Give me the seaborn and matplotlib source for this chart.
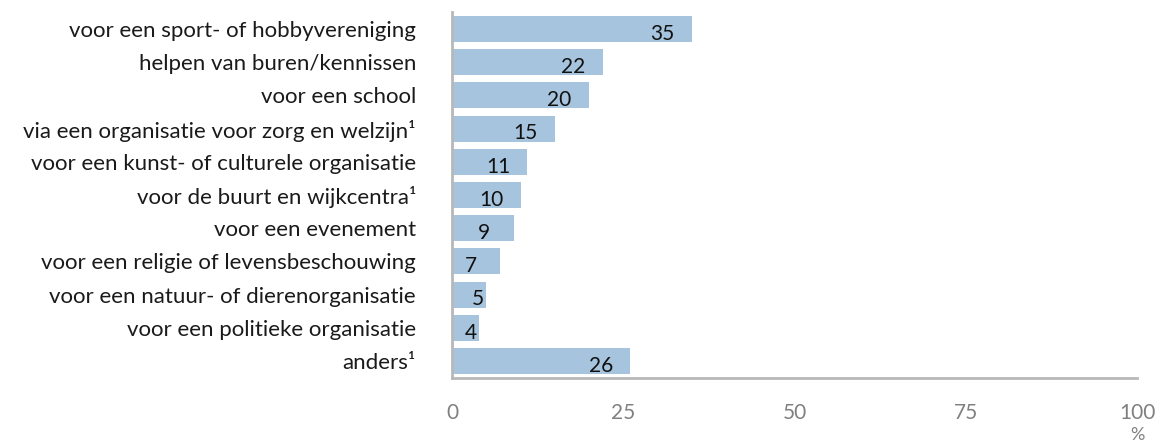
import matplotlib
matplotlib.use("Agg")
import matplotlib.pyplot as plt
import seaborn as sns
import pandas as pd

categories = [
    "voor een sport- of hobbyvereniging",
    "helpen van buren/kennissen",
    "voor een school",
    "via een organisatie voor zorg en welzijn¹",
    "voor een kunst- of culturele organisatie",
    "voor de buurt en wijkcentra¹",
    "voor een evenement",
    "voor een religie of levensbeschouwing",
    "voor een natuur- of dierenorganisatie",
    "voor een politieke organisatie",
    "anders¹",
]
values = [35, 22, 20, 15, 11, 10, 9, 7, 5, 4, 26]
x_ticks = [0, 25, 50, 75, 100]

sns.set_theme(style="white")
plt.rcParams["font.family"] = ["Lato", "DejaVu Sans"]

df = pd.DataFrame({"cat": categories, "val": values})

fig = plt.figure(figsize=(11.62, 4.44), dpi=100)
ax = fig.add_axes([0.389, 0.1495, 0.5895, 0.8225])

sns.barplot(data=df, x="val", y="cat", orient="h", color="#a6c4dd",
            saturation=1, width=0.78, ax=ax, edgecolor="none")

ax.set_xlim(0, 100)
ax.set_ylim(len(categories) - 0.5, -0.5)
ax.set_xticks(x_ticks)
ax.set_xticklabels([str(t) for t in x_ticks], color="#808080", fontsize=15)
ax.tick_params(axis="x", length=0, pad=18)
ax.tick_params(axis="y", length=0, pad=26, labelsize=16, labelcolor="#1a1a1a")
ax.set_xlabel("")
ax.set_ylabel("")

for s in ["top", "right"]:
    ax.spines[s].set_visible(False)
for s in ["left", "bottom"]:
    ax.spines[s].set_color("#b8b8b8")
    ax.spines[s].set_linewidth(2)

for i, v in enumerate(values):
    xpos = v - 4.3 if v >= 7 else v - 1.3
    ax.annotate(str(v), (xpos, i), xytext=(0, -3.5), textcoords="offset points",
                ha="center", va="center", fontsize=15, color="#111111")

ax.annotate("%", (100, 0), xycoords=("data", "axes fraction"), xytext=(0, -41),
            textcoords="offset points", ha="center", va="center",
            fontsize=13, color="#808080")

fig.savefig("out.png", dpi=100)
